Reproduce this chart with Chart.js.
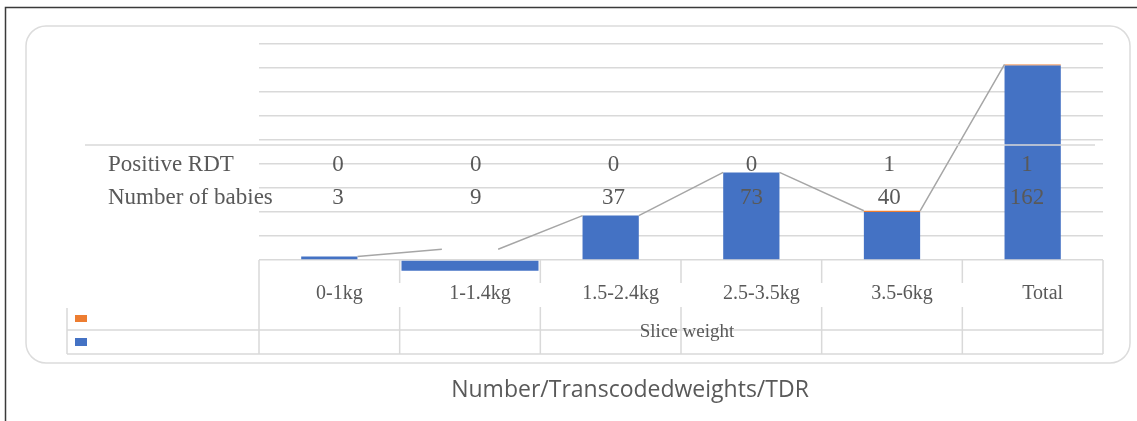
<!DOCTYPE html>
<html>
<head>
<meta charset="utf-8">
<title>Number/Transcodedweights/TDR</title>
<script src="https://cdn.jsdelivr.net/npm/chart.js@4/dist/chart.umd.min.js"></script>
<style>
  html, body { margin: 0; padding: 0; background: #fff; }
  #wrap { width: 1137px; height: 421px; position: relative; }
</style>
</head>
<body>
<div id="wrap"><canvas id="chart1" width="1137" height="421"></canvas></div>
<script>
// weight classes and counts
var weightClasses = ['0-1kg', '1-1.4kg', '1.5-2.4kg', '2.5-3.5kg', '3.5-6kg', 'Total'];
var babies = [3, 9, 37, 73, 40, 162];
var positiveRdt = [0, 0, 0, 0, 1, 1];
var belowAxis = [false, true, false, false, false, false];
var rowNames = ['Positive RDT', 'Number of babies'];
var yMin = 0, yMax = 180, yStep = 20;
var chartTitle = 'Number/Transcodedweights/TDR';
var axisTitle = 'Slice weight';

var BLUE = '#4472c4', ORANGE = '#ed7d31', GRID = '#d9d9d9', TEXT = '#595959';
var SERIF = '"Liberation Serif", "DejaVu Serif", serif';
var barFrac = 0.4;

// series lines join the top of each bar to the top of the next one
var seriesPts = [];
for (var i = 0; i < babies.length - 1; i++) {
  seriesPts.push({x: i + barFrac / 2, y: babies[i] + positiveRdt[i]});
  seriesPts.push({x: i + 1 - barFrac / 2, y: babies[i + 1] + positiveRdt[i + 1]});
  seriesPts.push({x: i + 0.9, y: null});
}

var decor = {
  id: 'decor',
  beforeDraw: function(chart) {
    var ctx = chart.ctx;
    ctx.save();
    ctx.strokeStyle = '#3a3a3a';
    ctx.lineWidth = 1.5;
    ctx.beginPath();
    ctx.moveTo(5.5, 421); ctx.lineTo(5.5, 7.5); ctx.lineTo(1137, 7.5);
    ctx.stroke();
    ctx.strokeStyle = '#dcdcdc';
    ctx.lineWidth = 1.5;
    ctx.beginPath();
    ctx.roundRect(26, 26, 1104, 337, 20);
    ctx.stroke();
    ctx.restore();
  },
  beforeDatasetsDraw: function(chart) {
    var ctx = chart.ctx, a = chart.chartArea;
    var step = (a.right - a.left) / weightClasses.length;
    var r1 = a.bottom + 70, r2 = a.bottom + 94;
    ctx.save();
    ctx.strokeStyle = GRID;
    ctx.lineWidth = 1.5;
    ctx.beginPath();
    ctx.moveTo(67, r1); ctx.lineTo(a.right, r1);
    ctx.moveTo(67, r2); ctx.lineTo(a.right, r2);
    ctx.moveTo(67, a.bottom + 48); ctx.lineTo(67, r2);
    ctx.moveTo(a.left, a.bottom); ctx.lineTo(a.left, r2);
    ctx.moveTo(a.right, a.bottom); ctx.lineTo(a.right, r2);
    for (var k = 1; k < weightClasses.length; k++) {
      var x = a.left + k * step;
      ctx.moveTo(x, a.bottom); ctx.lineTo(x, a.bottom + 23);
      ctx.moveTo(x, a.bottom + 47); ctx.lineTo(x, r2);
    }
    ctx.stroke();
    ctx.restore();
  },
  afterDatasetsDraw: function(chart) {
    var ctx = chart.ctx, a = chart.chartArea;
    ctx.save();
    // data table top rule
    ctx.strokeStyle = GRID;
    ctx.lineWidth = 1.5;
    ctx.beginPath();
    ctx.moveTo(85, a.top + 101); ctx.lineTo(a.right - 8, a.top + 101);
    ctx.stroke();

    // data table rows
    var tl = a.left + 10, tr = a.right - 7;
    var col = (tr - tl) / weightClasses.length;
    var rows = [positiveRdt, babies];
    var rowY = [a.top + 121, a.top + 154];
    ctx.fillStyle = TEXT;
    ctx.font = '23px ' + SERIF;
    ctx.textBaseline = 'middle';
    for (var r = 0; r < rows.length; r++) {
      ctx.textAlign = 'left';
      ctx.fillText(rowNames[r], 108, rowY[r]);
      ctx.textAlign = 'center';
      for (var c = 0; c < rows[r].length; c++) {
        ctx.fillText(String(rows[r][c]), tl + (c + 0.5) * col, rowY[r]);
      }
    }

    // legend keys
    ctx.fillStyle = ORANGE;
    ctx.fillRect(75, a.bottom + 55, 12, 7);
    ctx.fillStyle = BLUE;
    ctx.fillRect(75, a.bottom + 78, 12, 8);

    // axis title and chart title
    ctx.fillStyle = TEXT;
    ctx.textAlign = 'center';
    ctx.font = '19px ' + SERIF;
    ctx.fillText(axisTitle, (a.left + a.right) / 2 + 6, a.bottom + 72);
    ctx.font = '23px "Open Sans", "Noto Sans", sans-serif';
    ctx.fillText(chartTitle, 630, 390);
    ctx.restore();
  }
};

new Chart(document.getElementById('chart1'), {
  type: 'bar',
  data: {
    labels: weightClasses,
    datasets: [
      {
        type: 'line',
        label: 'Series lines',
        data: seriesPts,
        xAxisID: 'xl',
        stack: 'lines',
        borderColor: '#a6a6a6',
        borderWidth: 1.5,
        pointRadius: 0,
        spanGaps: false,
        fill: false
      },
      {
        label: 'Number of babies',
        data: babies.map(function(v, i) { return belowAxis[i] ? null : v; }),
        backgroundColor: BLUE,
        grouped: false,
        barPercentage: barFrac,
        categoryPercentage: 1
      },
      {
        label: 'Positive RDT',
        data: positiveRdt,
        backgroundColor: ORANGE,
        grouped: false,
        barPercentage: barFrac,
        categoryPercentage: 1
      },
      {
        label: 'Number of babies (below)',
        data: babies.map(function(v, i) { return belowAxis[i] ? -v : null; }),
        xAxisID: 'x2',
        backgroundColor: BLUE,
        grouped: false,
        barPercentage: 0.974,
        categoryPercentage: 1,
        clip: false
      }
    ]
  },
  options: {
    responsive: false,
    animation: false,
    devicePixelRatio: 1,
    layout: { padding: { left: 259, right: 34, top: 44, bottom: 0 } },
    plugins: { legend: { display: false }, tooltip: { enabled: false } },
    scales: {
      x: {
        stacked: true,
        grid: { display: false, drawTicks: false },
        border: { display: false },
        ticks: { color: TEXT, font: { family: SERIF, size: 20 }, padding: 22, labelOffset: 10 },
        afterFit: function(s) { s.height = 161; }
      },
      x2: { display: false, stacked: true, offset: true },
      xl: { type: 'linear', display: false, offset: false, min: -0.5, max: weightClasses.length - 0.5 },
      y: {
        stacked: true,
        min: yMin,
        max: yMax,
        grid: { color: GRID, lineWidth: 1.5, drawTicks: false },
        border: { display: false },
        ticks: { display: false, stepSize: yStep },
        afterFit: function(s) { s.width = 0; }
      }
    }
  },
  plugins: [decor]
});
</script>
</body>
</html>
